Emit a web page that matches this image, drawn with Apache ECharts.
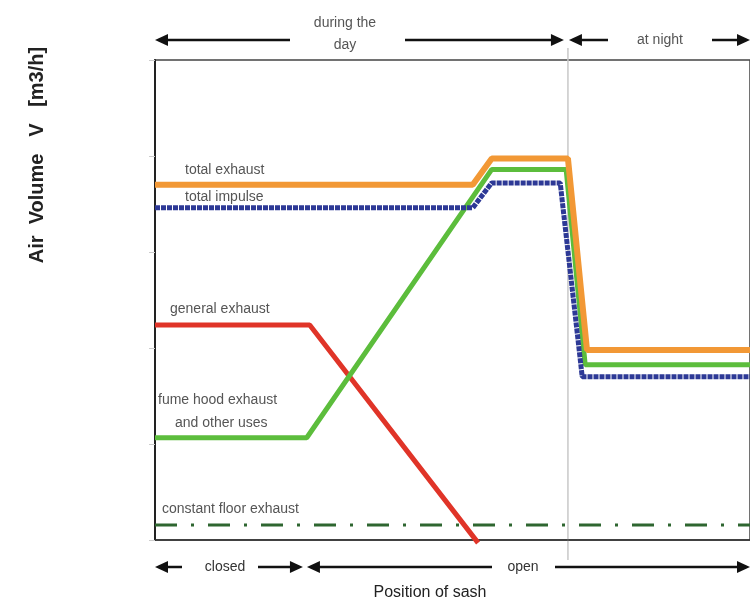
<!DOCTYPE html>
<html>
<head>
<meta charset="utf-8">
<script src="https://cdn.jsdelivr.net/npm/echarts@6/dist/echarts.min.js"></script>
<style>
  html, body { margin: 0; padding: 0; background: #fff; }
  #main { width: 750px; height: 603px; }
</style>
</head>
<body>
<div id="main"></div>
<script>
// x: position along the sash/time axis (0..100), y: relative air volume (0..100)
const totalExhaust = [[0, 74], [53.4, 74], [56.6, 79.5], [69.4, 79.5], [72.6, 39.6], [100, 39.6]]
const totalImpulse = [[0, 69.2], [53.4, 69.2], [56.6, 74.4], [68.1, 74.4], [71.8, 34], [100, 34]]
const fumeHood = [[0, 21.3], [25.5, 21.3], [56.6, 77.2], [69.1, 77.2], [72.3, 36.5], [100, 36.5]]
const generalExhaust = [[0, 44.8], [26, 44.8], [54.3, -0.6]]
const floorExhaust = [[0, 3.1], [100, 3.1]]

// phase boundaries on the x axis
const sashKnee = 25.2
const nightStart = 69.4

const font = '"Liberation Sans", Arial, sans-serif'

const chart = echarts.init(document.getElementById('main'))

chart.setOption({
  animation: false,
  grid: { left: 155, right: 0, top: 60, bottom: 63, show: true, borderColor: '#444', borderWidth: 1.5 },
  xAxis: {
    type: 'value', min: 0, max: 100,
    axisLine: { show: true, lineStyle: { color: '#333', width: 1.5 } },
    axisTick: { show: false }, axisLabel: { show: false }, splitLine: { show: false },
  },
  yAxis: {
    type: 'value', min: 0, max: 100, interval: 20,
    axisLine: { show: true, lineStyle: { color: '#222', width: 2 } },
    axisTick: { show: true, inside: false, length: 6, lineStyle: { color: '#ccc' } },
    axisLabel: { show: false }, splitLine: { show: false },
  },
  series: [
    {
      name: 'constant floor exhaust', type: 'line', data: floorExhaust, symbol: 'none',
      lineStyle: { color: '#2e6630', width: 3, type: [22, 14, 3, 14] },
    },
    {
      name: 'general exhaust', type: 'line', data: generalExhaust, symbol: 'none', clip: false,
      lineStyle: { color: '#e03428', width: 5 },
    },
    {
      name: 'fume hood exhaust', type: 'line', data: fumeHood, symbol: 'none',
      lineStyle: { color: '#5cbd3c', width: 5 },
    },
    {
      name: 'total impulse', type: 'line', data: totalImpulse, symbol: 'none',
      lineStyle: { color: '#2d3996', width: 5, type: [5, 1] },
    },
    {
      name: 'total exhaust', type: 'line', data: totalExhaust, symbol: 'none',
      lineStyle: { color: '#f29835', width: 6 },
    },
  ],
})

const px = (x) => chart.convertToPixel({ gridIndex: 0 }, [x, 0])[0]
const left = px(0), right = 750, knee = px(sashKnee), night = px(nightStart)

function head(tip, y, dir) {
  // dir = -1 points left, 1 points right
  return {
    type: 'polygon', z: 10,
    shape: { points: [[tip, y], [tip - dir * 13, y - 6], [tip - dir * 13, y + 6]] },
    style: { fill: '#111' },
  }
}
function seg(x1, x2, y) {
  return { type: 'line', z: 10, shape: { x1, y1: y, x2, y2: y }, style: { stroke: '#111', lineWidth: 2.5 } }
}
function txt(text, x, y, opts) {
  return {
    type: 'text', z: 10, x, y,
    style: Object.assign({ text, font: '14px ' + font, fill: '#555', align: 'left', verticalAlign: 'middle' }, opts || {}),
  }
}

const topY = 40, botY = 567

chart.setOption({
  graphic: [
    // divider between day and night
    { type: 'line', shape: { x1: night, y1: 48, x2: night, y2: 560 }, style: { stroke: '#c8c8c8', lineWidth: 1.5 } },

    // top: during the day / at night
    head(left, topY, -1), seg(left + 8, 290, topY),
    txt('during the', 345, 23, { align: 'center' }),
    txt('day', 345, 45, { align: 'center' }),
    seg(405, night - 8, topY), head(night - 4, topY, 1),
    head(night + 1, topY, -1), seg(night + 8, 608, topY),
    txt('at night', 660, topY, { align: 'center' }),
    seg(712, right - 8, topY), head(right, topY, 1),

    // bottom: closed / open
    head(left, botY, -1), seg(left + 8, 182, botY),
    txt('closed', 225, botY, { align: 'center', fill: '#333' }),
    seg(258, knee - 8, botY), head(knee - 2, botY, 1),
    head(knee + 2, botY, -1), seg(knee + 8, 492, botY),
    txt('open', 523, botY, { align: 'center', fill: '#333' }),
    seg(555, right - 8, botY), head(right, botY, 1),

    txt('Position of sash', 430, 593, { align: 'center', font: '16px ' + font, fill: '#222' }),

    // y axis title
    {
      type: 'text', x: 37, y: 155, rotation: Math.PI / 2,
      style: { text: 'Air  Volume   V   [m3/h]', font: 'bold 20px ' + font, fill: '#222', align: 'center', verticalAlign: 'middle' },
    },

    // series labels
    txt('total exhaust', 185, 170),
    txt('total impulse', 185, 197),
    txt('general exhaust', 170, 309),
    txt('fume hood exhaust', 158, 400),
    txt('and other uses', 175, 423),
    txt('constant floor exhaust', 162, 509),
  ],
})
</script>
</body>
</html>
